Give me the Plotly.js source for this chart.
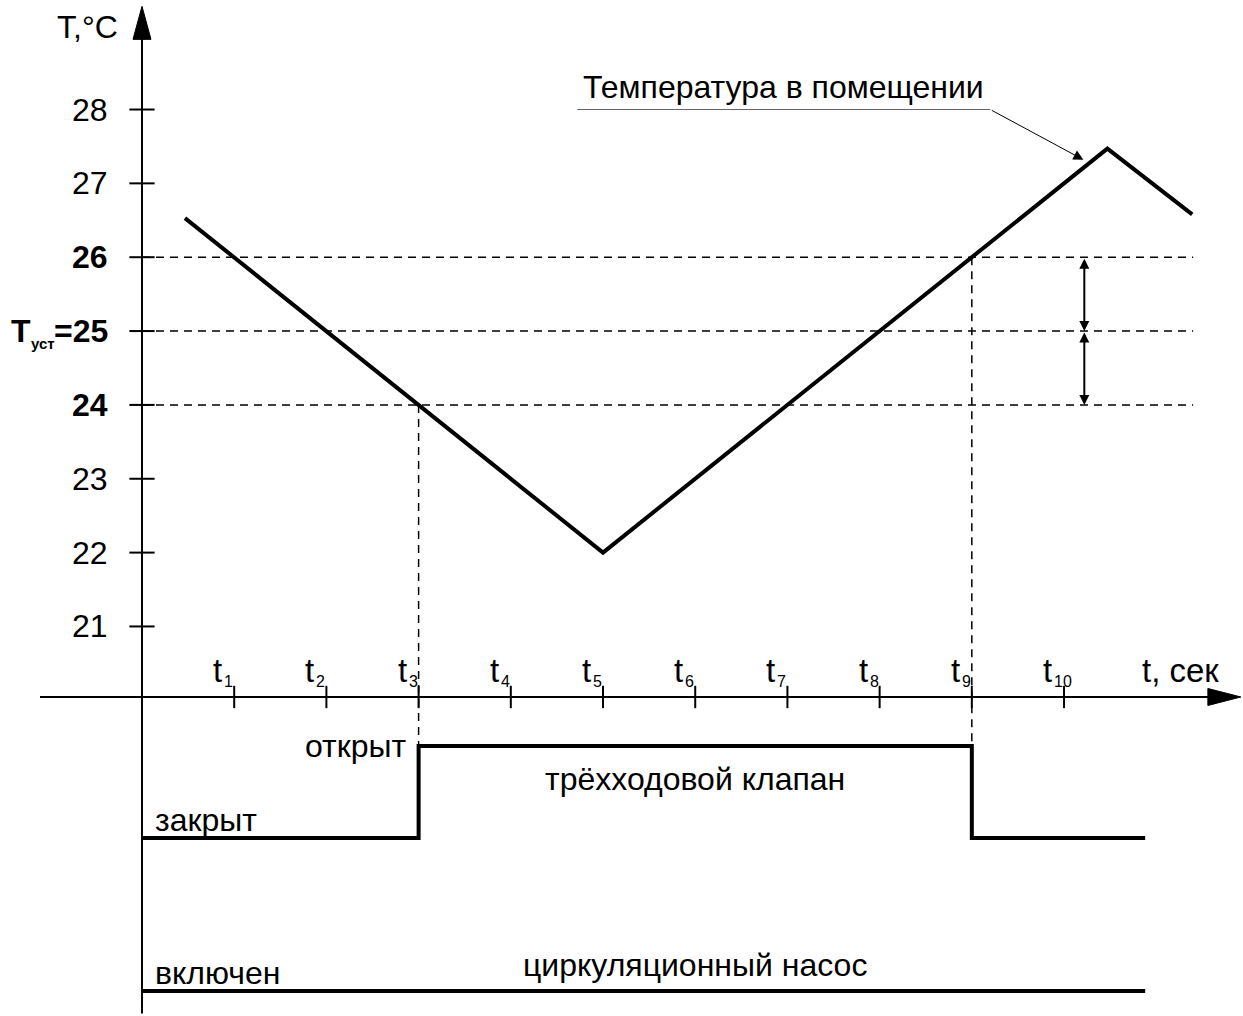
<!DOCTYPE html>
<html>
<head>
<meta charset="utf-8">
<script src="https://cdn.plot.ly/plotly-3.0.1.min.js"></script>
<style>html,body{margin:0;padding:0;background:#fff;}#chart{width:1243px;height:1016px;}</style>
</head>
<body>
<div id="chart"></div>
<script>
// ---- data ----
var tempTime = [0.466, 5, 10.47, 11.39];
var tempValue = [26.53, 22, 27.47, 26.58];
var valveTime = [0, 3, 9, 10.88];
var valveState = [0, 1, 0, 0];          // 0 = закрыт, 1 = открыт
var pumpTime = [0, 10.88];
var pumpState = [1, 1];                 // 1 = включен
var timeTicks = [1, 2, 3, 4, 5, 6, 7, 8, 9, 10];
var timeTickLabels = ['1', '2', '3', '4', '5', '6', '7', '8', '9', '10'];
var tempTicks = [21, 22, 23, 24, 25, 26, 27, 28];
var tempTickLabels = ['21', '22', '23', '<b>24</b>', '<b>=25</b>', '<b>26</b>', '27', '28'];
var setpointSymbol = 'T';
var setpointSub = 'уст';
var bandLevels = [24, 25, 26];
var setpoint = 25;
var valveSwitchTimes = [3, 9];
var valveSwitchTemps = [24, 26];

// ---- frame ----
var FONT = 'Liberation Sans, Arial, sans-serif';
var FS = 32;
var xRange = [-1.540, 11.941];
var yRange = [15.725, 29.483];
var y2Range = [-1.935, 9.109];
var y3Range = [0.728, 11.772];
var axisLevel = 20.045;   // temperature value where the time axis crosses
var yAxisTop = 28.95;
var dashEnd = 11.4;
var arrowX = 10.22;

function y2ToY(v) {
  var f = (v - y2Range[0]) / (y2Range[1] - y2Range[0]);
  return yRange[0] + f * (yRange[1] - yRange[0]);
}
function fnt(size, bold) { return {family: FONT, size: size, color: '#000', weight: bold ? 'bold' : 'normal'}; }

var traces = [
  {x: tempTime, y: tempValue, mode: 'lines', line: {color: '#000', width: 4}, xaxis: 'x', yaxis: 'y', hoverinfo: 'skip'},
  {x: valveTime, y: valveState, mode: 'lines', line: {color: '#000', width: 4, shape: 'hv'}, xaxis: 'x', yaxis: 'y2', hoverinfo: 'skip'},
  {x: pumpTime, y: pumpState, mode: 'lines', line: {color: '#000', width: 4}, xaxis: 'x', yaxis: 'y3', hoverinfo: 'skip'},
  {x: timeTicks, y: timeTicks.map(function(){return axisLevel;}), mode: 'markers',
   marker: {symbol: 'line-ns-open', size: 16, color: '#000', line: {color: '#000', width: 2}}, xaxis: 'x', yaxis: 'y', hoverinfo: 'skip'},
  {x: tempTicks.map(function(){return 0;}), y: tempTicks, mode: 'markers',
   marker: {symbol: 'line-ew-open', size: 18, color: '#000', line: {color: '#000', width: 2}}, xaxis: 'x', yaxis: 'y', hoverinfo: 'skip'}
];

var shapes = [];
bandLevels.forEach(function(v) {
  shapes.push({type: 'line', xref: 'x', yref: 'y', x0: 0, x1: dashEnd, y0: v, y1: v, layer: 'below',
               line: {color: '#000', width: 1.5, dash: '8px,6px'}});
});
valveSwitchTimes.forEach(function(t, i) {
  shapes.push({type: 'line', xref: 'x', yref: 'y', x0: t, x1: t, y0: valveSwitchTemps[i], y1: y2ToY(1), layer: 'below',
               line: {color: '#000', width: 1.5, dash: '8px,6px'}});
});
shapes.push({type: 'line', xref: 'x', yref: 'y', x0: -1.106, x1: 11.6, y0: axisLevel, y1: axisLevel, layer: 'below',
             line: {color: '#000', width: 2}});
shapes.push({type: 'line', xref: 'x', yref: 'y', x0: 0, x1: 0, y0: 15.76, y1: yAxisTop + 0.05, layer: 'below',
             line: {color: '#000', width: 2}});
shapes.push({type: 'path', xref: 'x', yref: 'y', xsizemode: 'pixel', ysizemode: 'pixel', xanchor: 0, yanchor: yAxisTop,
             path: 'M-9,0 L9,0 L0,33 Z', fillcolor: '#000', line: {color: '#000', width: 1}});
shapes.push({type: 'path', xref: 'x', yref: 'y', xsizemode: 'pixel', ysizemode: 'pixel', xanchor: 11.56, yanchor: axisLevel,
             path: 'M0,-8.5 L0,8.5 L33,0 Z', fillcolor: '#000', line: {color: '#000', width: 1}});
shapes.push({type: 'line', xref: 'x', yref: 'y', x0: 4.72, x1: 9.2, y0: 28, y1: 28,
             line: {color: '#666', width: 1.2}});

var ann = [];
// y tick labels
tempTicks.forEach(function(v, i) {
  ann.push({x: 0, y: v, xref: 'x', yref: 'y', text: tempTickLabels[i], showarrow: false,
            xanchor: 'right', yanchor: 'middle', xshift: -32, font: fnt(FS)});
});
// setpoint symbol with subscript, placed left of "=25"
ann.push({x: 0, y: setpoint, xref: 'x', yref: 'y', text: '<b>' + setpointSymbol + '</b>', showarrow: false,
          xanchor: 'left', yanchor: 'middle', xshift: -133, font: fnt(FS)});
ann.push({x: 0, y: setpoint, xref: 'x', yref: 'y', text: '<b>' + setpointSub + '</b>', showarrow: false,
          xanchor: 'left', yanchor: 'middle', xshift: -113, yshift: -12, font: fnt(15)});
// x tick labels: "t" with separate subscript
timeTicks.forEach(function(v, i) {
  ann.push({x: v, y: axisLevel, xref: 'x', yref: 'y', text: 't', showarrow: false,
            xanchor: 'left', yanchor: 'middle', xshift: -23, yshift: 26, font: fnt(33)});
  ann.push({x: v, y: axisLevel, xref: 'x', yref: 'y', text: timeTickLabels[i], showarrow: false,
            xanchor: 'left', yanchor: 'middle', xshift: -12, yshift: 15, font: fnt(16)});
});
// axis titles
ann.push({x: 0, y: 29.12, xref: 'x', yref: 'y', text: 'T,°C', showarrow: false, xanchor: 'right', yanchor: 'middle',
          xshift: -22, font: fnt(FS)});
ann.push({x: 10.82, y: axisLevel, xref: 'x', yref: 'y', text: 't, сек', showarrow: false, xanchor: 'left', yanchor: 'middle',
          yshift: 26, font: fnt(33)});
// series label with pointer
ann.push({x: 6.96, y: 28, xref: 'x', yref: 'y', text: 'Температура в помещении', showarrow: false, xanchor: 'center', yanchor: 'bottom',
          yshift: 3, font: fnt(FS)});
ann.push({x: 10.21, y: 27.32, xref: 'x', yref: 'y', ax: 9.2, ay: 28, axref: 'x', ayref: 'y', text: '', showarrow: true,
          arrowhead: 2, arrowsize: 2, arrowwidth: 1, arrowcolor: '#000', standoff: 0});
// setpoint band double arrows
[[26, setpoint], [setpoint, 24]].forEach(function(p) {
  ann.push({x: arrowX, y: p[1], xref: 'x', yref: 'y', ax: arrowX, ay: p[0], axref: 'x', ayref: 'y', text: '', showarrow: true,
            arrowside: 'end+start', arrowhead: 2, startarrowhead: 2, arrowsize: 1, startarrowsize: 1, arrowwidth: 2,
            arrowcolor: '#000', standoff: 0, startstandoff: 0});
});
// valve / pump labels
ann.push({x: 3, y: 1, xref: 'x', yref: 'y2', text: 'открыт', showarrow: false, xanchor: 'right', yanchor: 'middle',
          xshift: -10, font: fnt(FS)});
ann.push({x: 0, y: 0, xref: 'x', yref: 'y2', text: 'закрыт', showarrow: false, xanchor: 'left', yanchor: 'bottom',
          xshift: 11, yshift: -2, font: fnt(FS)});
ann.push({x: 6.0, y: 0.64, xref: 'x', yref: 'y2', text: 'трёхходовой клапан', showarrow: false, xanchor: 'center', yanchor: 'middle',
          font: fnt(FS)});
ann.push({x: 0, y: 1, xref: 'x', yref: 'y3', text: 'включен', showarrow: false, xanchor: 'left', yanchor: 'bottom',
          xshift: 11, yshift: -2, font: fnt(FS)});
ann.push({x: 6.0, y: 1.28, xref: 'x', yref: 'y3', text: 'циркуляционный насос', showarrow: false, xanchor: 'center', yanchor: 'middle',
          font: fnt(FS)});

var layout = {
  width: 1243, height: 1016,
  margin: {l: 0, r: 0, t: 0, b: 0, pad: 0},
  paper_bgcolor: '#fff', plot_bgcolor: '#fff',
  showlegend: false,
  font: {family: FONT, size: FS, color: '#000'},
  xaxis: {range: xRange, visible: false, fixedrange: true},
  yaxis: {range: yRange, visible: false, fixedrange: true},
  yaxis2: {range: y2Range, visible: false, overlaying: 'y', fixedrange: true},
  yaxis3: {range: y3Range, visible: false, overlaying: 'y', fixedrange: true},
  shapes: shapes,
  annotations: ann
};

Plotly.newPlot('chart', traces, layout, {staticPlot: true, displayModeBar: false});
</script>
</body>
</html>
